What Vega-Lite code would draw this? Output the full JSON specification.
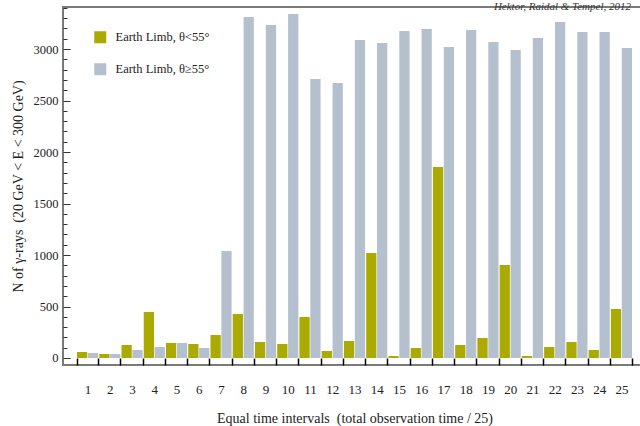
{
  "$schema": "https://vega.github.io/schema/vega-lite/v6.json",
  "width": 578,
  "height": 358,
  "autosize": "none",
  "padding": {"left": 63, "top": 7, "right": 0, "bottom": 61},
  "background": "white",
  "config": {
    "view": {"stroke": "#7a7a7a", "strokeWidth": 2},
    "font": "Liberation Serif"
  },
  "title": {
    "text": "Hektor, Raidal & Tempel, 2012",
    "anchor": "end",
    "orient": "top",
    "fontStyle": "italic",
    "fontSize": 11,
    "fontWeight": "normal",
    "color": "#333333",
    "font": "Liberation Serif",
    "baseline": "alphabetic",
    "offset": -14,
    "dx": -10
  },
  "data": {
    "values": [
      {"interval": 1, "series": "Earth Limb, θ<55°", "n": 58},
      {"interval": 1, "series": "Earth Limb, θ≥55°", "n": 48},
      {"interval": 2, "series": "Earth Limb, θ<55°", "n": 39},
      {"interval": 2, "series": "Earth Limb, θ≥55°", "n": 39},
      {"interval": 3, "series": "Earth Limb, θ<55°", "n": 126},
      {"interval": 3, "series": "Earth Limb, θ≥55°", "n": 78},
      {"interval": 4, "series": "Earth Limb, θ<55°", "n": 447},
      {"interval": 4, "series": "Earth Limb, θ≥55°", "n": 107},
      {"interval": 5, "series": "Earth Limb, θ<55°", "n": 146},
      {"interval": 5, "series": "Earth Limb, θ≥55°", "n": 146},
      {"interval": 6, "series": "Earth Limb, θ<55°", "n": 136},
      {"interval": 6, "series": "Earth Limb, θ≥55°", "n": 97},
      {"interval": 7, "series": "Earth Limb, θ<55°", "n": 223},
      {"interval": 7, "series": "Earth Limb, θ≥55°", "n": 1040},
      {"interval": 8, "series": "Earth Limb, θ<55°", "n": 427},
      {"interval": 8, "series": "Earth Limb, θ≥55°", "n": 3311},
      {"interval": 9, "series": "Earth Limb, θ<55°", "n": 155},
      {"interval": 9, "series": "Earth Limb, θ≥55°", "n": 3233},
      {"interval": 10, "series": "Earth Limb, θ<55°", "n": 136},
      {"interval": 10, "series": "Earth Limb, θ≥55°", "n": 3340},
      {"interval": 11, "series": "Earth Limb, θ<55°", "n": 398},
      {"interval": 11, "series": "Earth Limb, θ≥55°", "n": 2709},
      {"interval": 12, "series": "Earth Limb, θ<55°", "n": 68},
      {"interval": 12, "series": "Earth Limb, θ≥55°", "n": 2670},
      {"interval": 13, "series": "Earth Limb, θ<55°", "n": 165},
      {"interval": 13, "series": "Earth Limb, θ≥55°", "n": 3087},
      {"interval": 14, "series": "Earth Limb, θ<55°", "n": 1019},
      {"interval": 14, "series": "Earth Limb, θ≥55°", "n": 3058},
      {"interval": 15, "series": "Earth Limb, θ<55°", "n": 19},
      {"interval": 15, "series": "Earth Limb, θ≥55°", "n": 3175},
      {"interval": 16, "series": "Earth Limb, θ<55°", "n": 97},
      {"interval": 16, "series": "Earth Limb, θ≥55°", "n": 3194},
      {"interval": 17, "series": "Earth Limb, θ<55°", "n": 1854},
      {"interval": 17, "series": "Earth Limb, θ≥55°", "n": 3019},
      {"interval": 18, "series": "Earth Limb, θ<55°", "n": 126},
      {"interval": 18, "series": "Earth Limb, θ≥55°", "n": 3184},
      {"interval": 19, "series": "Earth Limb, θ<55°", "n": 194},
      {"interval": 19, "series": "Earth Limb, θ≥55°", "n": 3068},
      {"interval": 20, "series": "Earth Limb, θ<55°", "n": 903},
      {"interval": 20, "series": "Earth Limb, θ≥55°", "n": 2990},
      {"interval": 21, "series": "Earth Limb, θ<55°", "n": 19},
      {"interval": 21, "series": "Earth Limb, θ≥55°", "n": 3107},
      {"interval": 22, "series": "Earth Limb, θ<55°", "n": 107},
      {"interval": 22, "series": "Earth Limb, θ≥55°", "n": 3262},
      {"interval": 23, "series": "Earth Limb, θ<55°", "n": 155},
      {"interval": 23, "series": "Earth Limb, θ≥55°", "n": 3165},
      {"interval": 24, "series": "Earth Limb, θ<55°", "n": 78},
      {"interval": 24, "series": "Earth Limb, θ≥55°", "n": 3165},
      {"interval": 25, "series": "Earth Limb, θ<55°", "n": 476},
      {"interval": 25, "series": "Earth Limb, θ≥55°", "n": 3010}
    ]
  },
  "mark": {"type": "bar"},
  "encoding": {
    "x": {
      "field": "interval",
      "type": "ordinal",
      "scale": {"range": [14, 569], "paddingInner": 0.05, "paddingOuter": 0},
      "axis": {
        "labelAngle": 0,
        "tickBand": "extent",
        "tickSize": -7,
        "tickColor": "#000000",
        "tickWidth": 1.5,
        "domain": false,
        "labelPadding": 25,
        "labelFontSize": 13,
        "labelColor": "#222222",
        "title": "Equal time intervals\u00a0\u00a0(total observation time / 25)",
        "titleFontSize": 14,
        "titleFontWeight": "normal",
        "titleColor": "#222222",
        "titlePadding": 15
      }
    },
    "xOffset": {"field": "series", "scale": {"paddingInner": 0.06}},
    "y": {
      "field": "n",
      "type": "quantitative",
      "scale": {"domain": [-68, 3408], "nice": false, "zero": false},
      "axis": {
        "values": [0, 100, 200, 300, 400, 500, 600, 700, 800, 900, 1000, 1100, 1200, 1300, 1400, 1500, 1600, 1700, 1800, 1900, 2000, 2100, 2200, 2300, 2400, 2500, 2600, 2700, 2800, 2900, 3000, 3100, 3200, 3300, 3400],
        "format": "d",
        "labelExpr": "datum.value % 500 === 0 ? datum.label : ''",
        "tickSize": {"condition": {"test": "datum.value % 500 === 0", "value": -7}, "value": -4},
        "tickColor": "#333333",
        "domain": false,
        "grid": false,
        "labelPadding": 12,
        "labelFontSize": 12.5,
        "labelColor": "#222222",
        "title": "N of γ-rays\u00a0\u00a0(20 GeV < E < 300 GeV)",
        "titleFontSize": 14,
        "titleFontWeight": "normal",
        "titleColor": "#222222",
        "titlePadding": 8
      }
    },
    "y2": {"datum": 0},
    "color": {
      "field": "series",
      "type": "nominal",
      "scale": {"domain": ["Earth Limb, θ<55°", "Earth Limb, θ≥55°"], "range": ["#ABAA00", "#B4C0CD"]},
      "legend": {
        "orient": "none",
        "legendX": 31,
        "legendY": 24,
        "title": null,
        "symbolType": "square",
        "symbolSize": 144,
        "symbolStrokeWidth": 0,
        "symbolOpacity": 1,
        "labelFontSize": 12.5,
        "labelFont": "Liberation Serif",
        "labelColor": "#222222",
        "rowPadding": 19,
        "labelOffset": 9,
        "padding": 0
      }
    }
  }
}
